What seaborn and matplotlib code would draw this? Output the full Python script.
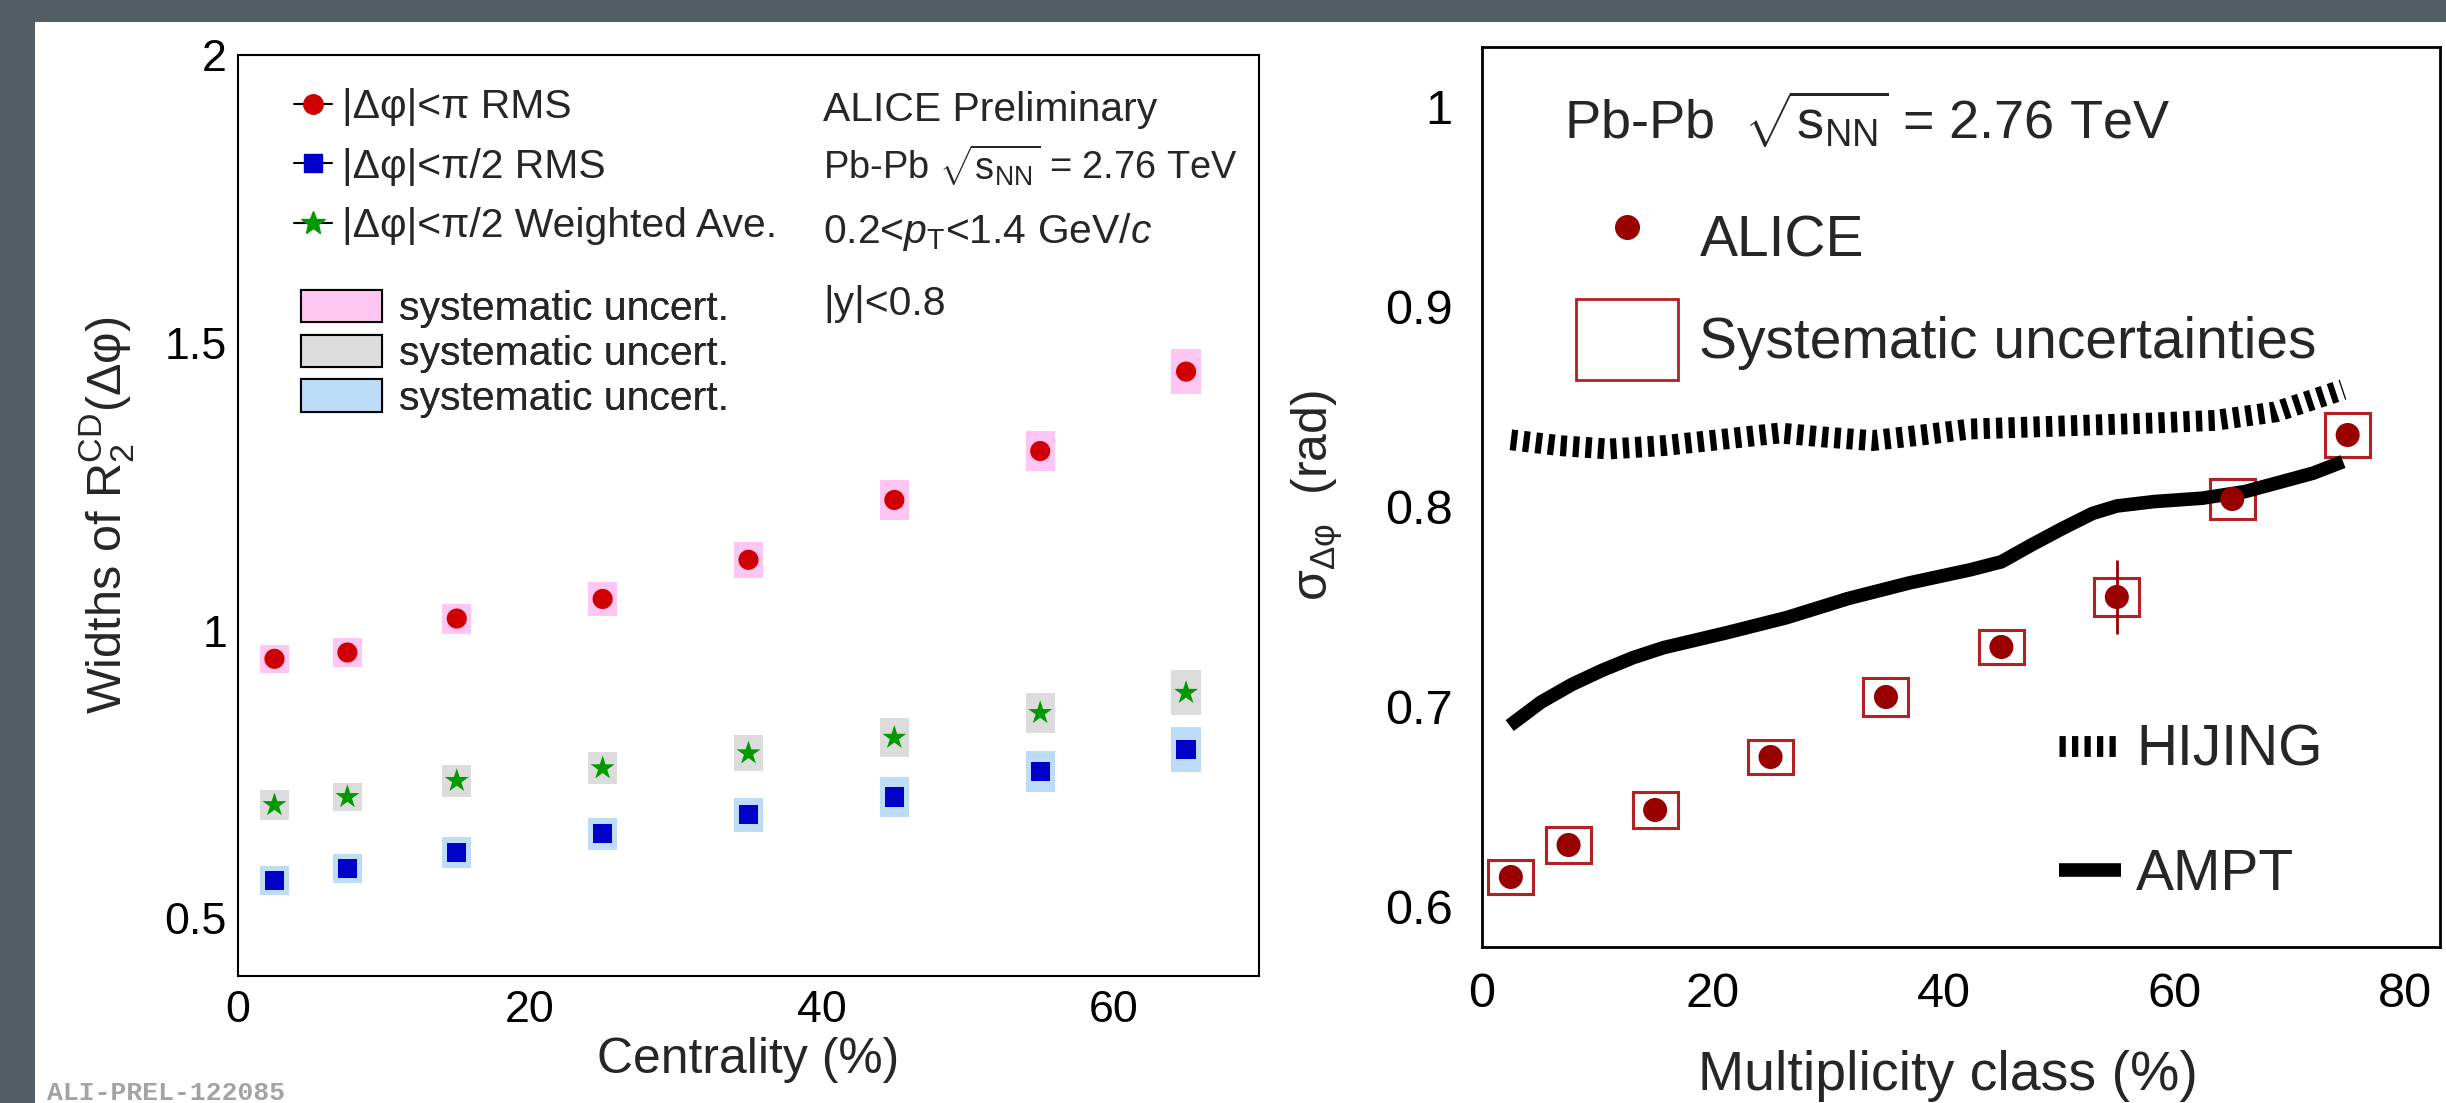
import numpy as np
import matplotlib
matplotlib.use("Agg")
import matplotlib.pyplot as plt
import seaborn as sns
from matplotlib import font_manager
from matplotlib.lines import Line2D
from matplotlib.patches import Patch, Rectangle

# left panel: widths vs centrality
cent = [2.5, 7.5, 15, 25, 35, 45, 55, 65]
rms_pi = [0.951, 0.962, 1.021, 1.055, 1.123, 1.227, 1.312, 1.450]
rms_pi2 = [0.566, 0.587, 0.615, 0.647, 0.680, 0.711, 0.755, 0.793]
wavg_pi2 = [0.697, 0.711, 0.739, 0.761, 0.787, 0.814, 0.857, 0.892]
sys_pi = [0.024, 0.026, 0.026, 0.029, 0.031, 0.034, 0.035, 0.039]
sys_pi2 = [0.025, 0.025, 0.027, 0.028, 0.030, 0.034, 0.036, 0.039]
sys_wavg = [0.026, 0.025, 0.028, 0.028, 0.031, 0.034, 0.034, 0.039]

# right panel: sigma vs multiplicity class
mult = [2.5, 7.5, 15, 25, 35, 45, 55, 65, 75]
alice = [0.615, 0.631, 0.6485, 0.675, 0.705, 0.730, 0.755, 0.804, 0.836]
alice_stat = [0.005, 0.005, 0.004, 0.004, 0.004, 0.004, 0.0185, 0.005, 0.004]
alice_sys = [0.0086, 0.0088, 0.0088, 0.0086, 0.0094, 0.0086, 0.0094, 0.010, 0.0108]

hijing_x = [2.5, 6.7, 11, 15.75, 21.1, 25.8, 29.6, 33.8, 38.1, 42.3, 47.6, 52.9, 58.2, 63.5, 68.8, 74.6]
hijing_y = [0.8336, 0.8307, 0.829, 0.8307, 0.834, 0.837, 0.835, 0.8332, 0.836, 0.839, 0.840, 0.841, 0.842, 0.8433, 0.8476, 0.8587]

ampt_x = [2.4, 5.1, 7.8, 10.4, 13.1, 15.75, 21.1, 26.4, 31.7, 37.0, 42.3, 45.0, 47.6, 50.3,
          52.9, 55.0, 58.2, 62.4, 66.1, 68.8, 72.0, 74.6]
ampt_y = [0.6907, 0.7024, 0.7113, 0.7183, 0.7247, 0.7297, 0.737, 0.7447, 0.7542, 0.762, 0.7686,
          0.7726, 0.781, 0.7893, 0.7968, 0.8005, 0.8027, 0.8044, 0.8077, 0.8119, 0.8169, 0.8227]

sns.set_style("white")
names = {f.name for f in font_manager.fontManager.ttflist}
NARROW = "Liberation Sans Narrow" if "Liberation Sans Narrow" in names else "Liberation Sans"
narrow_ok = NARROW == "Liberation Sans Narrow"
nfam = [NARROW, "DejaVu Sans"]
sfam = ["Liberation Sans", "DejaVu Sans"]
plt.rcParams["font.family"] = sfam
plt.rcParams["mathtext.fontset"] = "custom"
plt.rcParams["mathtext.rm"] = NARROW
plt.rcParams["mathtext.it"] = NARROW + ":italic"
plt.rcParams["mathtext.bf"] = NARROW + ":bold"

# text sizes of the left (ROOT) panel; the condensed face is not always there
k = 1.0 if narrow_ok else 0.92

W, H = 2446, 1103
fig = plt.figure(figsize=(W / 100, H / 100), dpi=100)
fig.patch.set_facecolor("#535d65")
fig.add_artist(Rectangle((35 / W, 0), 1, (H - 22) / H, transform=fig.transFigure,
                         facecolor="white", edgecolor="none", zorder=-10))

ax1 = fig.add_axes([238 / W, 1 - 976 / H, (1259 - 238) / W, (976 - 55) / H])
ax2 = fig.add_axes([1482 / W, 1 - 947 / H, (2440 - 1482) / W, (947 - 47) / H])

# ---- left panel
red, blue, green = "#d10000", "#0000c8", "#009a00"
pink, grey, lblue = "#ffc6f3", "#dcdcdc", "#bcdcf7"
for y, s, c in [(rms_pi, sys_pi, pink), (rms_pi2, sys_pi2, lblue), (wavg_pi2, sys_wavg, grey)]:
    y = np.array(y)
    s = np.array(s)
    ax1.bar(cent, 2 * s, bottom=y - s, width=2, color=c, linewidth=0, zorder=1)

sns.scatterplot(x=cent, y=rms_pi, marker="o", s=210, color=red, edgecolor="none", ax=ax1, zorder=3)
sns.scatterplot(x=cent, y=rms_pi2, marker="s", s=190, color=blue, edgecolor="none", ax=ax1, zorder=3)
sns.scatterplot(x=cent, y=wavg_pi2, marker="*", s=330, color=green, edgecolor="none", ax=ax1, zorder=3)

ax1.set_xlim(0, 70)
ax1.set_ylim(0.4, 2.0)
ax1.set_xticks([0, 20, 40, 60])
ax1.set_yticks([0.5, 1, 1.5, 2], labels=["0.5", "1", "1.5", "2"])
ax1.tick_params(direction="in", length=21, width=1.5, labelsize=35 * k, top=False, right=False, colors="black")
ax1.tick_params(axis="y", pad=8)
ax1.tick_params(axis="x", pad=10)
for lbl in ax1.get_xticklabels() + ax1.get_yticklabels():
    lbl.set_family(nfam)
for sp in ax1.spines.values():
    sp.set_linewidth(1.5)
    sp.set_color("black")

ax1.set_xlabel("Centrality (%)", fontsize=39 * k, family=nfam)
ax1.xaxis.set_label_coords(0.5, (976 - 1060) / 921)
ax1.xaxis.label.set_va("center")
ax1.set_ylabel(r"Widths of $\mathregular{R_2^{CD}}$(Δφ)", fontsize=35, family=sfam)
ax1.yaxis.set_label_coords((107 - 238) / 1021, 0.5)
ax1.yaxis.label.set_va("center")

fs1 = 32 * k
h1 = [Line2D([], [], color="black", lw=1.5, marker="o", ms=14, mfc=red, mec=red),
      Line2D([], [], color="black", lw=1.5, marker="s", ms=13, mfc=blue, mec=blue),
      Line2D([], [], color="black", lw=1.5, marker="*", ms=18, mfc=green, mec=green)]
leg1 = ax1.legend(h1, ["|Δφ|<π RMS", "|Δφ|<π/2 RMS", "|Δφ|<π/2 Weighted Ave."],
                  loc="upper left", bbox_to_anchor=(0.0548, 0.9642), frameon=False,
                  prop=dict(family=nfam, size=fs1), handlelength=0.93, handletextpad=0.24,
                  labelspacing=0.53, borderpad=0, borderaxespad=0)
ax1.add_artist(leg1)
h2 = [Patch(facecolor=c, edgecolor="black", lw=1.5) for c in (pink, grey, lblue)]
leg2 = ax1.legend(h2, ["systematic uncert."] * 3, loc="upper left", bbox_to_anchor=(0.0617, 0.7448),
                  frameon=False, prop=dict(family=nfam, size=fs1), handlelength=1.97,
                  handleheight=0.84, handletextpad=0.43, labelspacing=0.156, borderpad=0, borderaxespad=0)
ax1.add_artist(leg2)

txt = dict(transform=ax1.transAxes, family=nfam, va="baseline", ha="left")
ax1.text(0.573, 0.9283, "ALICE Preliminary", fontsize=fs1, **txt)
ax1.text(0.573, 0.8643, r"Pb-Pb $\sqrt{\mathregular{s_{NN}}}$ = 2.76 TeV", fontsize=fs1 * 0.93, **txt)
ax1.text(0.573, 0.7959, r"0.2<$\mathit{p}_\mathregular{T}$<1.4 GeV/$\mathit{c}$", fontsize=fs1, **txt)
ax1.text(0.573, 0.7177, "|y|<0.8", fontsize=fs1, **txt)

# ---- right panel
dred, bred = "#990000", "#b22222"
a = np.array(alice)
s = np.array(alice_sys)
ax2.bar(mult, 2 * s, bottom=a - s, width=3.9, fill=False, edgecolor=bred, linewidth=2.2, zorder=2)
ax2.errorbar(mult, alice, yerr=alice_stat, fmt="none", ecolor=dred, elinewidth=2, capsize=0, zorder=3)
sns.scatterplot(x=mult, y=alice, marker="o", s=300, color=dred, edgecolor="none", ax=ax2, zorder=4)
sns.lineplot(x=hijing_x, y=hijing_y, color="black", linewidth=15, linestyle=(0, (0.3, 0.3)),
             sort=False, estimator=None, legend=False, ax=ax2)
sns.lineplot(x=ampt_x, y=ampt_y, color="black", linewidth=9.8, solid_capstyle="butt",
             solid_joinstyle="round", sort=False, estimator=None, legend=False, ax=ax2)

ax2.set_xlim(0, 83)
ax2.set_ylim(0.58, 1.03)
ax2.set_xticks([0, 20, 40, 60, 80])
ax2.set_yticks([0.6, 0.7, 0.8, 0.9, 1], labels=["0.6", "0.7", "0.8", "0.9", "1"])
ax2.tick_params(direction="in", length=21, width=1.5, labelsize=35, top=False, right=False, colors="black")
ax2.tick_params(axis="y", pad=21)
ax2.tick_params(axis="x", pad=18)
for sp in ax2.spines.values():
    sp.set_linewidth(2)
    sp.set_color("black")

ax2.set_xlabel("Multiplicity class (%)", fontsize=40)
ax2.xaxis.set_label_coords(0.486, (947 - 1090) / 900)
ax2.xaxis.label.set_va("baseline")
ax2.set_ylabel(r"$\mathregular{σ_{Δφ}}$  (rad)", fontsize=36)
ax2.yaxis.set_label_coords((1317 - 1482) / 958, 0.502)
ax2.yaxis.label.set_va("center")

ax2.text(0.0856, 0.8973, r"Pb-Pb  $\sqrt{\mathregular{s_{NN}}}$ = 2.76 TeV", transform=ax2.transAxes,
         fontsize=39, va="baseline")

h3 = [Line2D([], [], ls="none", marker="o", ms=17, mfc=dred, mec=dred),
      Patch(facecolor="none", edgecolor=bred, lw=2)]
leg3 = ax2.legend(h3, ["ALICE", "Systematic uncertainties"], loc="upper left",
                  bbox_to_anchor=(0.098, 0.8328), frameon=False, fontsize=41, handlelength=1.8,
                  handleheight=1.81, handletextpad=0.37, labelspacing=0.36, borderpad=0, borderaxespad=0)
ax2.add_artist(leg3)
h4 = [Line2D([], [], color="black", lw=15, ls=(0, (0.3, 0.3))),
      Line2D([], [], color="black", lw=9.8, solid_capstyle="butt")]
ax2.legend(h4, ["HIJING", "AMPT"], loc="upper left", bbox_to_anchor=(0.602, 0.248), frameon=False,
           fontsize=41, handlelength=1.1, handletextpad=0.26, labelspacing=1.23, borderpad=0,
           borderaxespad=0)

fig.text(47 / W, 1 - 1100 / H, "ALI-PREL-122085", family=["Liberation Mono", "DejaVu Sans Mono"],
         weight="bold", fontsize=19, color="#a3a3a3", va="baseline")

fig.savefig("out.png", dpi=100, facecolor=fig.get_facecolor())
